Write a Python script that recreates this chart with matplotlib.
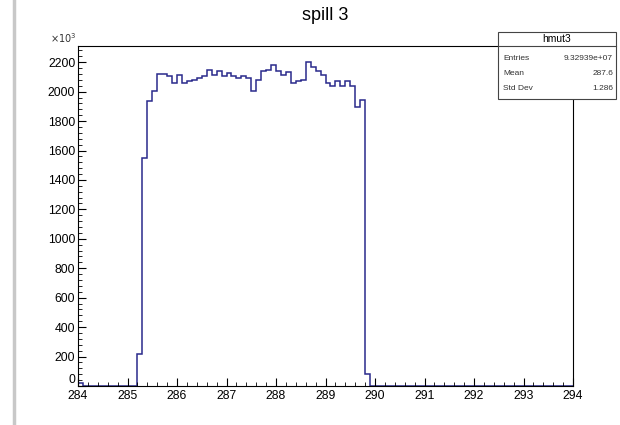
"""spill 3: hmut3 Histogramm (ROOT-Stil) nachgebaut."""
import matplotlib
matplotlib.use("Agg")
import matplotlib.pyplot as plt
from matplotlib.lines import Line2D
from matplotlib.patches import Rectangle
import numpy as np

plt.rcParams["font.family"] = ["Liberation Sans", "DejaVu Sans"]

# Bin-Inhalte (x10^3), 0.1 breite Bins von 284 bis 294
lead = [20] + [0] * 11
spill = [220, 1552, 1933, 2001, 2119, 2123, 2103, 2062, 2114, 2058,
         2069, 2080, 2092, 2103, 2148, 2114, 2137, 2103, 2126, 2103,
         2092, 2103, 2092, 2005, 2078, 2140, 2146, 2180, 2140, 2116,
         2134, 2062, 2069, 2082, 2200, 2166, 2140, 2110, 2060, 2035,
         2069, 2035, 2069, 2039, 1895, 1944, 80]
tail = [0] * 41
counts = np.array(lead + spill + tail, dtype=float)
edges = np.round(np.linspace(284, 294, 101), 2)

TITLE = "spill 3"
STATS_NAME = "hmut3"
STATS = [("Entries", "9.32939e+07"), ("Mean", "287.6"), ("Std Dev", "1.286")]

W, H = 620, 425
fig = plt.figure(figsize=(W / 100, H / 100), dpi=100)
ax = fig.add_axes([78 / W, 1 - 386 / H, (573 - 78) / W, (386 - 46) / H])

ax.stairs(counts, edges, color="#2a2a8c", lw=1.1)
ax.set_xlim(284, 294)
ax.set_ylim(0, 2310)
ax.set_xticks(np.arange(284, 295, 1))
ax.set_xticks(np.arange(284, 294.01, 0.2), minor=True)
ax.set_yticks(np.arange(0, 2201, 200))
ax.set_yticks(np.arange(0, 2301, 40), minor=True)
ax.tick_params(direction="in", which="major", length=6, width=0.8, labelsize=8.8, pad=2)
ax.tick_params(axis="x", which="major", pad=3)
ax.tick_params(direction="in", which="minor", length=3, width=0.6)
ax.tick_params(axis="x", top=False)
ax.tick_params(axis="y", right=False)
for sp in ax.spines.values():
    sp.set_linewidth(0.8)
fig.canvas.draw()
ax.get_yticklabels()[0].set_va("bottom")

fig.text(325 / W, 1 - 16 / H, TITLE, ha="center", va="center", fontsize=13)
fig.text(50 / W, 1 - 38 / H, r"$\times10^{3}$", ha="left", va="center", fontsize=7, color="#333333")

# Statistikbox
bx0, bx1, by0, by1, bh = 498, 616, 32, 99, 46
fig.patches.append(Rectangle((bx0 / W, 1 - by1 / H), (bx1 - bx0) / W, (by1 - by0) / H,
                             transform=fig.transFigure, fc="white", ec="#444444", lw=0.8))
fig.lines.append(Line2D([bx0 / W, bx1 / W], [1 - bh / H, 1 - bh / H],
                        transform=fig.transFigure, color="#444444", lw=0.8))
fig.text((bx0 + bx1) / 2 / W, 1 - 39 / H, STATS_NAME, ha="center", va="center", fontsize=7.5)
for i, (k, v) in enumerate(STATS):
    yy = 1 - (58 + i * 15.5) / H
    fig.text(503 / W, yy, k, ha="left", va="center", fontsize=6, color="#333333")
    fig.text(613 / W, yy, v, ha="right", va="center", fontsize=6, color="#333333")

# grauer Rand links (Canvas)
fig.lines.append(Line2D([14 / W, 14 / W], [0, 1], transform=fig.transFigure,
                        color="#c8c8c8", lw=2.5))

fig.savefig("out.png", dpi=100)
